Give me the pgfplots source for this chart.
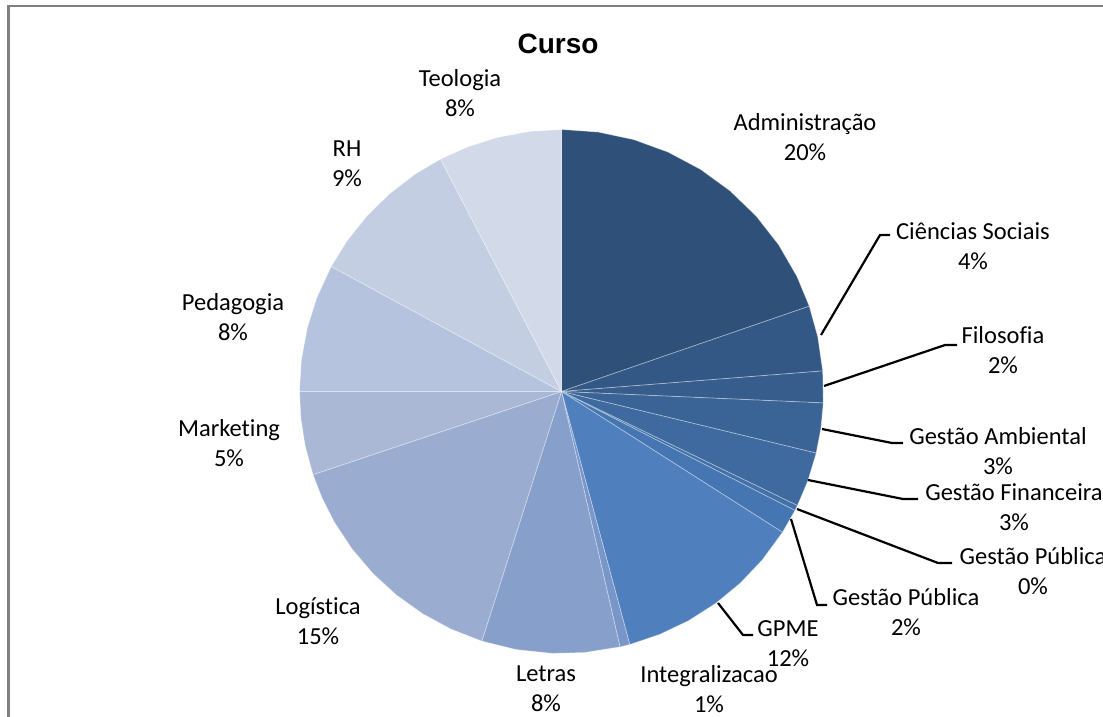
\documentclass[border=0pt]{standalone}
\usepackage{fontspec}
\setmainfont{Carlito}[Ligatures=NoCommon]
\newfontfamily\titlefont{Liberation Sans}
\usepackage{pgfplots}
\pgfplotsset{compat=1.18}
\definecolor{cAdm}{HTML}{2F5078}
\definecolor{cCS}{HTML}{335885}
\definecolor{cFil}{HTML}{365D8C}
\definecolor{cGA}{HTML}{3A6496}
\definecolor{cGF}{HTML}{3E6AA0}
\definecolor{cGPz}{HTML}{4270A8}
\definecolor{cGP}{HTML}{4676B2}
\definecolor{cGPME}{HTML}{4F80BD}
\definecolor{cInt}{HTML}{7896C8}
\definecolor{cLet}{HTML}{87A0CB}
\definecolor{cLog}{HTML}{9AACD0}
\definecolor{cMkt}{HTML}{AAB8D6}
\definecolor{cPed}{HTML}{B6C3DE}
\definecolor{cRH}{HTML}{C4CEE2}
\definecolor{cTeo}{HTML}{D2D9E8}
\definecolor{frame}{HTML}{808080}
\pgfplotsset{
  slice/.style={draw=white,draw opacity=0.35,line width=0.8pt,data cs=polar},
  lead/.style={black,line width=2.2pt}}
\tikzset{lbl/.style={align=center,font=\fontsize{24.5}{30}\selectfont,inner sep=0pt}}
\begin{document}
\begin{tikzpicture}
\begin{axis}[x=1pt,y=1pt,xmin=-561.5,xmax=541.5,ymin=-324.5,ymax=391.5,
  hide axis,scale only axis,clip=false]
% pie slices: (angle in degrees, radius)
\addplot[slice,fill=cAdm] coordinates {(0,0) (90,262) (82,262) (74,262) (66,262) (58,262) (50,262) (42,262) (34,262) (26,262) (19,262)} -- cycle;
\addplot[slice,fill=cCS] coordinates {(0,0) (19,262) (12,262) (4.5,262)} -- cycle;
\addplot[slice,fill=cFil] coordinates {(0,0) (4.5,262) (-2.5,262)} -- cycle;
\addplot[slice,fill=cGA] coordinates {(0,0) (-2.5,262) (-8,262) (-13.6,262)} -- cycle;
\addplot[slice,fill=cGF] coordinates {(0,0) (-13.6,262) (-20,262) (-25.8,262)} -- cycle;
\addplot[slice,fill=cGPz] coordinates {(0,0) (-25.8,262) (-27,262)} -- cycle;
\addplot[slice,fill=cGP] coordinates {(0,0) (-27,262) (-32.5,262)} -- cycle;
\addplot[slice,fill=cGPME] coordinates {(0,0) (-32.5,262) (-40,262) (-47,262) (-54,262) (-61,262) (-68,262) (-74.9,262)} -- cycle;
\addplot[slice,fill=cInt] coordinates {(0,0) (-74.9,262) (-77.1,262)} -- cycle;
\addplot[slice,fill=cLet] coordinates {(0,0) (-77.1,262) (-85,262) (-92,262) (-100,262) (-107.7,262)} -- cycle;
\addplot[slice,fill=cLog] coordinates {(0,0) (-107.7,262) (-115,262) (-122,262) (-129,262) (-136,262) (-143,262) (-150,262) (-156,262) (-161.5,262)} -- cycle;
\addplot[slice,fill=cMkt] coordinates {(0,0) (-161.5,262) (-168,262) (-174,262) (-180,262)} -- cycle;
\addplot[slice,fill=cPed] coordinates {(0,0) (-180,262) (-187,262) (-194,262) (-201,262) (-208.5,262)} -- cycle;
\addplot[slice,fill=cRH] coordinates {(0,0) (-208.5,262) (-215,262) (-222,262) (-229,262) (-236,262) (-242.5,262)} -- cycle;
\addplot[slice,fill=cTeo] coordinates {(0,0) (-242.5,262) (-249,262) (-256,262) (-263,262) (-270,262)} -- cycle;
% leader lines
\addplot[lead] coordinates {(259.5,56.5) (318.5,156.5) (328.5,156.5)};
\addplot[lead] coordinates {(262.5,5.5) (383.5,46.5) (395.5,46.5)};
\addplot[lead] coordinates {(260.5,-37.5) (330.5,-51.5) (341.5,-51.5)};
\addplot[lead] coordinates {(246.5,-88.5) (341.5,-107.5) (356.5,-107.5)};
\addplot[lead] coordinates {(235.5,-117.5) (376.5,-171.5) (390.5,-171.5)};
\addplot[lead] coordinates {(229.5,-127.5) (255.5,-213.5) (265.5,-213.5)};
\addplot[lead] coordinates {(156.5,-211.5) (181.5,-243.5) (191.5,-243.5)};
% frame
\addplot[frame,line width=2.6pt] coordinates {(-553,-400) (-553,385.5) (700,385.5)};
% labels
\node[font=\titlefont\bfseries\fontsize{28}{32}\selectfont,inner sep=0pt] at (axis cs:-3.5,347.5) {Curso};
\node[lbl] at (axis cs:243.5,254.5) {Administração\\20\%};
\node[lbl] at (axis cs:411.5,145.5) {Ciências Sociais\\4\%};
\node[lbl] at (axis cs:441.5,41.5) {Filosofia\\2\%};
\node[lbl] at (axis cs:436.5,-59.5) {Gestão Ambiental\\3\%};
\node[lbl] at (axis cs:452.5,-115.5) {Gestão Financeira\\3\%};
\node[lbl] at (axis cs:471.5,-179.5) {Gestão Pública\\0\%};
\node[lbl] at (axis cs:344.5,-220.5) {Gestão Pública\\2\%};
\node[lbl] at (axis cs:226.5,-252.5) {GPME\\12\%};
\node[lbl] at (axis cs:147.5,-297.5) {Integralizacao\\1\%};
\node[lbl] at (axis cs:-15.5,-297.5) {Letras\\8\%};
\node[lbl] at (axis cs:-243.5,-229.5) {Logística\\15\%};
\node[lbl] at (axis cs:-332.5,-51.5) {Marketing\\5\%};
\node[lbl] at (axis cs:-328.5,74.5) {Pedagogia\\8\%};
\node[lbl] at (axis cs:-214.5,227.5) {RH\\9\%};
\node[lbl] at (axis cs:-101.5,298.5) {Teologia\\8\%};
\end{axis}
\pgfresetboundingbox
\path (current axis.south west) rectangle (current axis.north east);
\end{tikzpicture}
\end{document}
